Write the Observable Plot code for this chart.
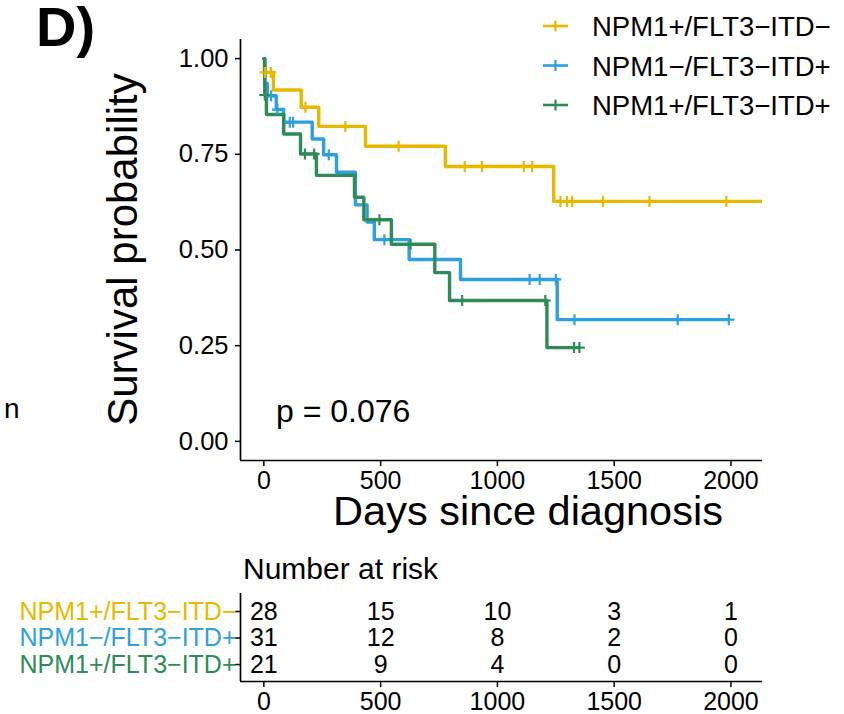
<!DOCTYPE html>
<html><head><meta charset="utf-8">
<script src="https://cdn.jsdelivr.net/npm/d3@7"></script>
<script src="https://cdn.jsdelivr.net/npm/@observablehq/plot@0.6"></script>
<style>
body{margin:0;background:#fff;overflow:hidden;}
#root{position:relative;width:844px;height:714px;font-family:"Liberation Sans",Arial,sans-serif;}
#root > svg{position:absolute;left:0;}
</style></head><body><div id="root"></div>
<script>
// ---- data ----
const groups = ["NPM1+/FLT3\u2212ITD\u2212", "NPM1\u2212/FLT3\u2212ITD+", "NPM1+/FLT3\u2212ITD+"];
const colors = ["#E7B800", "#2E9FDF", "#2E8B57"];

const yellowTime = [0, 2, 41, 160, 235, 435, 777, 1241, 2200];
const yellowSurv = [1, 0.964, 0.918, 0.873, 0.823, 0.771, 0.718, 0.627, 0.627];
const yellowCensor = [5, 30, 178, 349, 577, 860, 934, 1113, 1149, 1270, 1298, 1320, 1452, 1651, 1980];

const blueTime = [0, 4, 15, 53, 85, 207, 256, 311, 392, 442, 473, 622, 842, 1256, 1991];
const blueSurv = [1, 0.935, 0.903, 0.867, 0.834, 0.790, 0.749, 0.703, 0.618, 0.573, 0.527, 0.475, 0.423, 0.318, 0.318];
const blueCensor = [31, 58, 111, 125, 278, 516, 1138, 1181, 1250, 1330, 1772, 1991];

const greenTime = [0, 4, 11, 85, 157, 225, 388, 428, 546, 732, 795, 1212, 1351];
const greenSurv = [1, 0.905, 0.854, 0.803, 0.751, 0.695, 0.638, 0.579, 0.515, 0.441, 0.368, 0.245, 0.245];
const greenCensor = [4, 176, 215, 495, 628, 849, 1205, 1328, 1351];

const riskTimes = [0, 500, 1000, 1500, 2000];
const riskYellow = [28, 15, 10, 3, 1];
const riskBlue = [31, 12, 8, 2, 0];
const riskGreen = [21, 9, 4, 0, 0];

const yTicks = [0, 0.25, 0.5, 0.75, 1];
const pValueText = "p = 0.076";
const panelLabel = "D)";
const yTitle = "Survival probability";
const xTitle = "Days since diagnosis";
const riskTitle = "Number at risk";

// ---- build tables ----
const times = [yellowTime, blueTime, greenTime];
const survs = [yellowSurv, blueSurv, greenSurv];
const censors = [yellowCensor, blueCensor, greenCensor];
const risks = [riskYellow, riskBlue, riskGreen];

const curves = groups.flatMap((g, i) => times[i].map((t, j) => ({group: g, time: t, surv: survs[i][j]})));
function survAt(i, t) {
  let s = 1;
  for (let j = 0; j < times[i].length; j++) if (times[i][j] <= t) s = survs[i][j];
  return s;
}
const censorPts = groups.flatMap((g, i) => censors[i].map(t => ({group: g, time: t, surv: survAt(i, t)})));
const riskRows = groups.flatMap((g, i) => riskTimes.map((t, j) => ({group: g, row: i, time: t, n: risks[i][j]})));

const plusSymbol = {
  draw(ctx, size) {
    const r = Math.sqrt(size / Math.PI);
    ctx.moveTo(-r, 0); ctx.lineTo(r, 0);
    ctx.moveTo(0, -r); ctx.lineTo(0, r);
  }
};

const font = "Liberation Sans, Arial, sans-serif";
const xDomain = [-100, 2135];
const root = document.getElementById("root");
const intFmt = d => String(d);

const main = Plot.plot({
  width: 844, height: 540,
  marginLeft: 240, marginRight: 82, marginTop: 39, marginBottom: 80,
  x: {domain: xDomain, label: null},
  y: {domain: [-0.05, 1.05], label: null},
  color: {domain: groups, range: colors},
  style: {fontFamily: font, fontSize: "25px", color: "#000", background: "transparent", overflow: "visible"},
  marks: [
    Plot.ruleX([xDomain[0]], {strokeWidth: 1.7}),
    Plot.ruleY([-0.05], {strokeWidth: 1.7}),
    Plot.axisX({ticks: riskTimes, tickFormat: intFmt, tickSize: 6, tickPadding: 5, fontSize: 25, strokeWidth: 1.5, label: null}),
    Plot.axisY({ticks: yTicks, tickFormat: d3.format(".2f"), tickSize: 5, tickPadding: 7, fontSize: 25.5, strokeWidth: 1.5, label: null}),
    Plot.line(curves, {x: "time", y: "surv", z: "group", stroke: "group", curve: "step-after", strokeWidth: 3.4, clip: true}),
    Plot.dot(censorPts, {x: "time", y: "surv", stroke: "group", fill: "none", symbol: plusSymbol, r: 5.5, strokeWidth: 2.2, clip: true})
  ]
});
main.style.top = "0px";
root.appendChild(main);

const risk = Plot.plot({
  width: 844, height: 174,
  marginLeft: 240, marginRight: 82, marginTop: 53, marginBottom: 33,
  x: {domain: xDomain, label: null},
  y: {domain: [-0.68, 2.64], reverse: true, label: null},
  color: {domain: groups, range: colors},
  style: {fontFamily: font, fontSize: "25px", color: "#000", background: "transparent", overflow: "visible"},
  marks: [
    Plot.ruleX([xDomain[0]], {strokeWidth: 1.7}),
    Plot.ruleY([2.64], {strokeWidth: 1.7}),
    Plot.axisX({ticks: riskTimes, tickFormat: intFmt, tickSize: 6, tickPadding: 5, fontSize: 25, strokeWidth: 1.5, label: null}),
    Plot.axisY({ticks: [0, 1, 2], tickFormat: () => "", tickSize: 5, strokeWidth: 1.5, label: null}),
    Plot.text(groups, {y: (d, i) => i, frameAnchor: "left", text: d => d, fill: d => d, textAnchor: "end", dx: -4, fontSize: 25}),
    Plot.text(riskRows, {x: "time", y: "row", text: "n", fontSize: 25, fill: "#000"})
  ]
});
risk.style.top = "540px";
root.appendChild(risk);

// ---- overlay with titles and legend ----
const ov = d3.select(root).append("svg")
  .attr("width", 844).attr("height", 714)
  .style("top", "0px")
  .attr("font-family", font);

ov.append("text").attr("x", 36).attr("y", 46).attr("font-size", 56).attr("font-weight", "bold").text(panelLabel);
ov.append("text").attr("transform", "translate(137,249.5) rotate(-90)").attr("text-anchor", "middle").attr("font-size", 42).text(yTitle);
ov.append("text").attr("x", 528).attr("y", 525).attr("text-anchor", "middle").attr("font-size", 41.5).text(xTitle);
ov.append("text").attr("x", 276).attr("y", 422).attr("font-size", 32).text(pValueText);
ov.append("text").attr("x", 4).attr("y", 418).attr("font-size", 28).text("n");
ov.append("text").attr("x", 243).attr("y", 579).attr("font-size", 30).text(riskTitle);

groups.forEach((g, i) => {
  const cy = 26 + 39.5 * i;
  const gEl = ov.append("g");
  gEl.append("line").attr("x1", 543).attr("x2", 568).attr("y1", cy).attr("y2", cy).attr("stroke", colors[i]).attr("stroke-width", 2.6);
  gEl.append("line").attr("x1", 555.5).attr("x2", 555.5).attr("y1", cy - 5.5).attr("y2", cy + 5.5).attr("stroke", colors[i]).attr("stroke-width", 2.2);
  gEl.append("text").attr("x", 592).attr("y", cy + 10).attr("font-size", 27.5).text(g);
});
</script></body></html>
